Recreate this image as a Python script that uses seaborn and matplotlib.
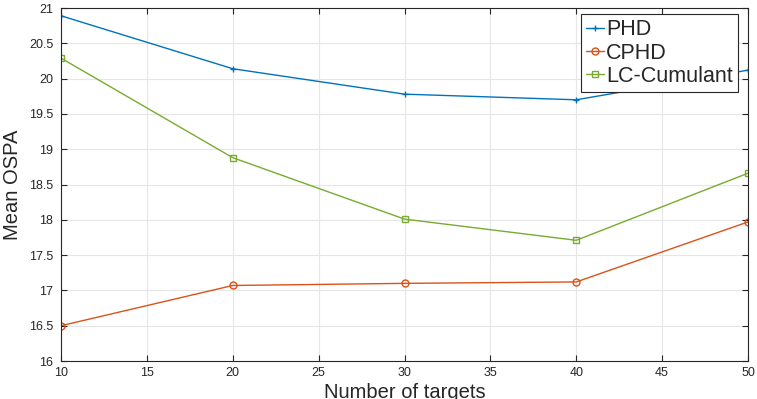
import matplotlib
matplotlib.use("Agg")
import matplotlib.pyplot as plt
import numpy as np
import pandas as pd
import seaborn as sns

# values
n_targets = [10, 20, 30, 40, 50]
phd = [20.89, 20.14, 19.78, 19.70, 20.12]
cphd = [16.50, 17.07, 17.10, 17.12, 17.97]
lc_cumulant = [20.29, 18.88, 18.01, 17.71, 18.66]

df = pd.DataFrame({
    "Number of targets": n_targets * 3,
    "Mean OSPA": phd + cphd + lc_cumulant,
    "Filter": ["PHD"] * 5 + ["CPHD"] * 5 + ["LC-Cumulant"] * 5,
})

sns.set_style("ticks")
plt.rcParams["font.family"] = ["Liberation Sans", "DejaVu Sans"]

fig = plt.figure(figsize=(7.57, 3.99), dpi=100)
ax = fig.add_axes([0.0806, 0.0952, 0.9075, 0.8847])

palette = {"PHD": "#0072BD", "CPHD": "#D95319", "LC-Cumulant": "#77AC30"}
markers = {"PHD": "+", "CPHD": "o", "LC-Cumulant": "s"}
for name in ["PHD", "CPHD", "LC-Cumulant"]:
    sub = df[df["Filter"] == name]
    sns.lineplot(data=sub, x="Number of targets", y="Mean OSPA", ax=ax,
                 color=palette[name], marker=markers[name], markersize=5,
                 markerfacecolor="none", markeredgecolor=palette[name],
                 markeredgewidth=1.0, linewidth=1.0, label=name)

ax.set_xlim(10, 50)
ax.set_ylim(16, 21)
ax.set_xticks(np.arange(10, 51, 5))
ax.set_yticks(np.arange(16, 21.01, 0.5))
ax.set_yticklabels(["16", "16.5", "17", "17.5", "18", "18.5", "19", "19.5", "20", "20.5", "21"])
ax.grid(True, color="#e6e6e6", linewidth=0.8)
ax.set_axisbelow(True)
ax.tick_params(direction="in", top=True, right=True, labelsize=9, length=4,
               color="#262626", labelcolor="#262626")
ax.tick_params(axis="x", pad=4.5)
ax.tick_params(axis="y", pad=5.5)
for s in ax.spines.values():
    s.set_color("#262626")
    s.set_linewidth(0.8)
# x label runs off the bottom edge, as in the original export
ax.set_xlabel("Number of targets", fontsize=14.5, color="#262626", labelpad=3)
ax.set_ylabel("Mean OSPA", fontsize=14.5, color="#262626", labelpad=5)

leg = ax.legend(loc="upper right", bbox_to_anchor=(0.9854, 0.983), borderaxespad=0,
                fontsize=15.5, frameon=True, fancybox=False,
                handlelength=0.8, handletextpad=0.1,
                borderpad=0.25, labelspacing=0.1)
leg.get_frame().set_edgecolor("#262626")
leg.get_frame().set_linewidth(0.8)
leg.get_frame().set_alpha(1)

fig.savefig("out.png", dpi=100)
